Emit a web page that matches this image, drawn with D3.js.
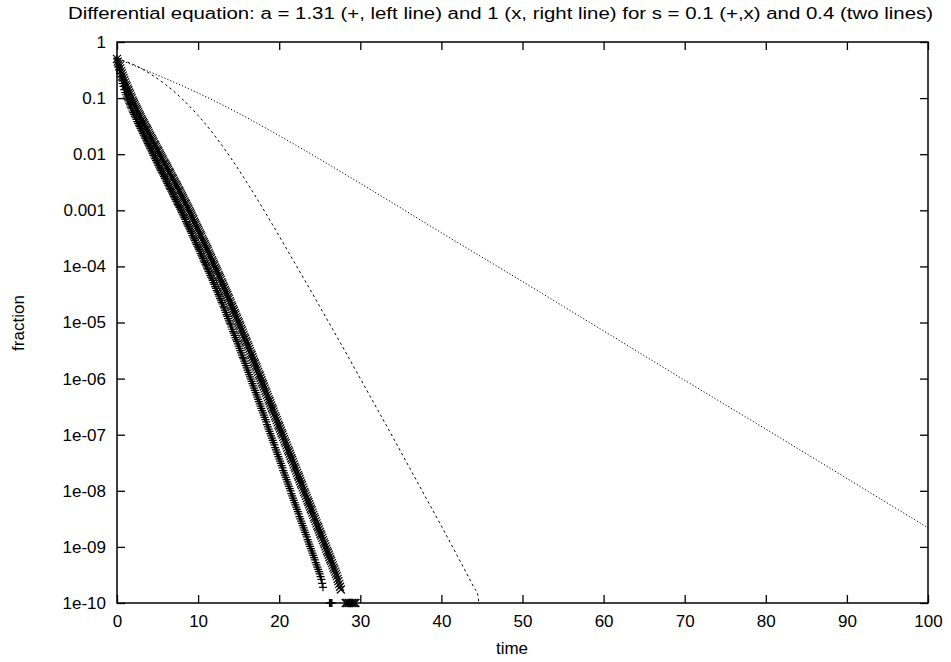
<!DOCTYPE html>
<html>
<head>
<meta charset="utf-8">
<script src="https://cdn.jsdelivr.net/npm/d3@7"></script>
<style>
  body { margin: 0; background: #fff; }
  svg { display: block; }
  text { font-family: "Liberation Sans", Arial, sans-serif; }
</style>
</head>
<body>
<svg id="chart"></svg>
<script>
var width = 951, height = 662;
var margin = {top: 42, right: 23, bottom: 59, left: 117};

var titleText = 'Differential equation: a = 1.31 (+, left line) and 1 (x, right line) for s = 0.1 (+,x) and 0.4 (two lines)';
var timeTicks = [0, 10, 20, 30, 40, 50, 60, 70, 80, 90, 100];
var fractionTicks = [1, 0.1, 0.01, 0.001, 1e-4, 1e-5, 1e-6, 1e-7, 1e-8, 1e-9, 1e-10];
var fractionLabels = ['1', '0.1', '0.01', '0.001', '1e-04', '1e-05', '1e-06', '1e-07', '1e-08', '1e-09', '1e-10'];

// log10(fraction), one point every sampleStep of time from t = 0
var sampleStep = 0.1;
// a = 1.31, s = 0.1  (+ marks), ten values per time unit
var plusExp = [
  -0.30, -0.37, -0.43, -0.50, -0.56, -0.62, -0.68, -0.74, -0.79, -0.85,
  -0.90, -0.94, -0.98, -1.02, -1.05, -1.09, -1.12, -1.16, -1.19, -1.23,
  -1.26, -1.29, -1.32, -1.35, -1.38, -1.42, -1.45, -1.48, -1.51, -1.54,
  -1.57, -1.60, -1.63, -1.66, -1.69, -1.72, -1.75, -1.78, -1.81, -1.84,
  -1.87, -1.90, -1.93, -1.96, -1.99, -2.02, -2.05, -2.08, -2.11, -2.14,
  -2.17, -2.20, -2.23, -2.26, -2.29, -2.32, -2.34, -2.37, -2.40, -2.43,
  -2.46, -2.49, -2.52, -2.55, -2.58, -2.61, -2.63, -2.66, -2.69, -2.72,
  -2.75, -2.78, -2.81, -2.84, -2.87, -2.90, -2.92, -2.95, -2.98, -3.01,
  -3.04, -3.07, -3.10, -3.13, -3.16, -3.20, -3.23, -3.26, -3.29, -3.32,
  -3.35, -3.38, -3.41, -3.45, -3.48, -3.51, -3.54, -3.58, -3.61, -3.64,
  -3.67, -3.70, -3.73, -3.77, -3.80, -3.83, -3.86, -3.90, -3.93, -3.96,
  -3.99, -4.03, -4.06, -4.09, -4.12, -4.16, -4.19, -4.22, -4.25, -4.29,
  -4.32, -4.36, -4.39, -4.43, -4.46, -4.50, -4.53, -4.57, -4.60, -4.64,
  -4.67, -4.71, -4.74, -4.78, -4.82, -4.86, -4.89, -4.93, -4.97, -5.01,
  -5.04, -5.08, -5.12, -5.16, -5.19, -5.23, -5.27, -5.31, -5.34, -5.38,
  -5.42, -5.46, -5.50, -5.54, -5.58, -5.62, -5.65, -5.69, -5.73, -5.77,
  -5.81, -5.85, -5.89, -5.93, -5.97, -6.01, -6.05, -6.09, -6.13, -6.17,
  -6.21, -6.25, -6.29, -6.33, -6.37, -6.41, -6.45, -6.49, -6.53, -6.57,
  -6.61, -6.65, -6.69, -6.73, -6.77, -6.82, -6.86, -6.90, -6.94, -6.98,
  -7.02, -7.06, -7.10, -7.14, -7.18, -7.23, -7.27, -7.31, -7.35, -7.39,
  -7.43, -7.47, -7.51, -7.55, -7.59, -7.64, -7.68, -7.72, -7.76, -7.80,
  -7.84, -7.88, -7.92, -7.96, -8.00, -8.05, -8.09, -8.13, -8.17, -8.21,
  -8.25, -8.29, -8.33, -8.37, -8.41, -8.46, -8.50, -8.54, -8.58, -8.62,
  -8.66, -8.70, -8.74, -8.78, -8.82, -8.87, -8.91, -8.95, -8.99, -9.03,
  -9.07, -9.11, -9.15, -9.19, -9.23, -9.28, -9.32, -9.36, -9.40, -9.44,
  -9.48, -9.53, -9.58, -9.65, -9.72
];
// a = 1, s = 0.1  (x marks), ten values per time unit
var crossExp = [
  -0.30, -0.35, -0.39, -0.43, -0.47, -0.52, -0.56, -0.60, -0.64, -0.68,
  -0.72, -0.76, -0.79, -0.83, -0.86, -0.90, -0.93, -0.97, -1.00, -1.04,
  -1.07, -1.10, -1.13, -1.16, -1.19, -1.22, -1.25, -1.28, -1.31, -1.34,
  -1.37, -1.40, -1.43, -1.45, -1.48, -1.51, -1.54, -1.56, -1.59, -1.62,
  -1.65, -1.68, -1.71, -1.73, -1.76, -1.79, -1.82, -1.84, -1.87, -1.90,
  -1.93, -1.95, -1.98, -2.01, -2.04, -2.06, -2.09, -2.12, -2.15, -2.17,
  -2.20, -2.22, -2.25, -2.28, -2.31, -2.33, -2.36, -2.39, -2.42, -2.44,
  -2.47, -2.50, -2.53, -2.55, -2.58, -2.61, -2.64, -2.66, -2.69, -2.72,
  -2.75, -2.78, -2.81, -2.84, -2.87, -2.89, -2.92, -2.95, -2.98, -3.01,
  -3.04, -3.07, -3.10, -3.13, -3.16, -3.20, -3.23, -3.26, -3.29, -3.32,
  -3.35, -3.38, -3.41, -3.44, -3.47, -3.51, -3.54, -3.57, -3.60, -3.63,
  -3.66, -3.69, -3.72, -3.76, -3.79, -3.82, -3.85, -3.89, -3.92, -3.95,
  -3.98, -4.02, -4.05, -4.08, -4.11, -4.15, -4.18, -4.21, -4.24, -4.28,
  -4.31, -4.35, -4.38, -4.42, -4.45, -4.48, -4.51, -4.55, -4.58, -4.62,
  -4.65, -4.69, -4.72, -4.76, -4.79, -4.83, -4.86, -4.90, -4.93, -4.97,
  -5.00, -5.04, -5.07, -5.11, -5.14, -5.18, -5.22, -5.26, -5.29, -5.33,
  -5.36, -5.40, -5.43, -5.47, -5.51, -5.55, -5.58, -5.62, -5.66, -5.70,
  -5.73, -5.77, -5.80, -5.84, -5.88, -5.92, -5.95, -5.99, -6.03, -6.07,
  -6.10, -6.14, -6.18, -6.22, -6.25, -6.29, -6.33, -6.37, -6.40, -6.44,
  -6.48, -6.52, -6.55, -6.59, -6.63, -6.67, -6.70, -6.74, -6.78, -6.82,
  -6.85, -6.89, -6.93, -6.97, -7.00, -7.04, -7.08, -7.12, -7.15, -7.19,
  -7.23, -7.27, -7.30, -7.34, -7.38, -7.42, -7.45, -7.49, -7.53, -7.57,
  -7.60, -7.64, -7.68, -7.72, -7.75, -7.79, -7.83, -7.87, -7.90, -7.94,
  -7.98, -8.02, -8.05, -8.09, -8.13, -8.17, -8.20, -8.24, -8.28, -8.32,
  -8.35, -8.39, -8.43, -8.47, -8.50, -8.54, -8.58, -8.62, -8.65, -8.69,
  -8.73, -8.77, -8.80, -8.84, -8.88, -8.92, -8.95, -8.99, -9.03, -9.07,
  -9.10, -9.14, -9.18, -9.22, -9.25, -9.29, -9.33, -9.37, -9.40, -9.44,
  -9.48, -9.52, -9.57, -9.61, -9.66, -9.71, -9.76
];
// marks sitting on the 1e-10 floor (time values)
var plusFloorTime = [26.2, 26.3, 26.4, 26.5];
var crossFloorTime = [28.2, 28.4, 28.6, 28.8, 29.0, 29.2, 29.4];

// a = 1.31, s = 0.4  (dashed)
var dashedTime = [0, 2, 4, 6, 8, 10, 12, 14, 16, 18, 20, 22, 24, 26, 28, 30, 32, 34, 36, 38, 40, 42, 44, 44.5, 44.6];
var dashedExp = [-0.30, -0.40, -0.56, -0.76, -1.01, -1.31, -1.66, -2.06, -2.50, -2.97, -3.46, -3.96, -4.46,
  -4.97, -5.48, -6.00, -6.52, -7.04, -7.57, -8.10, -8.63, -9.17, -9.72, -9.86, -10.0];
// a = 1, s = 0.4  (dotted)
var dottedTime = [0, 5, 10, 15, 20, 30, 40, 50, 60, 70, 80, 90, 100];
var dottedExp = [-0.30, -0.59, -0.91, -1.27, -1.67, -2.52, -3.40, -4.27, -5.15, -6.03, -6.90, -7.78, -8.66];

var svg = d3.select('#chart').attr('width', width).attr('height', height);

var x = d3.scaleLinear().domain([0, 100]).range([margin.left, width - margin.right]);
var y = d3.scaleLog().domain([1e-10, 1]).range([height - margin.bottom, margin.top]);

var plotLeft = x(0), plotRight = x(100), plotTop = y(1), plotBottom = y(1e-10);

function styleAxis(g) {
  g.attr('font-size', 17).attr('font-family', '"Liberation Sans", Arial, sans-serif');
  g.select('.domain').remove();
  g.selectAll('.tick line').attr('stroke', '#000').attr('stroke-width', 1.3);
  g.selectAll('.tick text').attr('fill', '#000');
}

svg.append('g')
  .attr('transform', `translate(0,${plotBottom})`)
  .call(d3.axisBottom(x).tickValues(timeTicks).tickSizeInner(-8).tickSizeOuter(0).tickPadding(12))
  .call(styleAxis);
svg.append('g')
  .attr('transform', `translate(0,${plotTop})`)
  .call(d3.axisTop(x).tickValues(timeTicks).tickSizeInner(-8).tickSizeOuter(0).tickFormat(''))
  .call(styleAxis);
svg.append('g')
  .attr('transform', `translate(${plotLeft},0)`)
  .call(d3.axisLeft(y).tickValues(fractionTicks).tickSizeInner(-8).tickSizeOuter(0).tickPadding(11)
    .tickFormat((d, i) => fractionLabels[i]))
  .call(styleAxis);
svg.append('g')
  .attr('transform', `translate(${plotRight},0)`)
  .call(d3.axisRight(y).tickValues(fractionTicks).tickSizeInner(-8).tickSizeOuter(0).tickFormat(''))
  .call(styleAxis);

// s = 0.4 lines
var line = d3.line()
  .x(d => x(d[0]))
  .y(d => y(Math.pow(10, d[1])))
  .curve(d3.curveMonotoneX);

svg.append('path')
  .datum(dottedTime.map((t, i) => [t, dottedExp[i]]))
  .attr('d', line)
  .attr('fill', 'none')
  .attr('stroke', '#000')
  .attr('stroke-width', 1)
  .attr('stroke-dasharray', '1.2,2');

svg.append('path')
  .datum(dashedTime.map((t, i) => [t, dashedExp[i]]))
  .attr('d', line)
  .attr('fill', 'none')
  .attr('stroke', '#000')
  .attr('stroke-width', 1)
  .attr('stroke-dasharray', '2.5,3');

// s = 0.1 point series
var half = 4;
function plusPath(d) {
  var px = x(d[0]), py = y(Math.pow(10, d[1]));
  return `M${px - half},${py}h${2 * half}M${px},${py - half}v${2 * half}`;
}
function crossPath(d) {
  var px = x(d[0]), py = y(Math.pow(10, d[1]));
  return `M${px - half},${py - half}l${2 * half},${2 * half}M${px - half},${py + half}l${2 * half},${-2 * half}`;
}

var plusData = plusExp.map((v, i) => [i * sampleStep, v])
  .concat(plusFloorTime.map(t => [t, -10]));
var crossData = crossExp.map((v, i) => [i * sampleStep, v])
  .concat(crossFloorTime.map(t => [t, -10]));

svg.append('g').selectAll('path')
  .data(crossData)
  .join('path')
  .attr('d', crossPath)
  .attr('fill', 'none')
  .attr('stroke', '#000')
  .attr('stroke-width', 1.2);

svg.append('g').selectAll('path')
  .data(plusData)
  .join('path')
  .attr('d', plusPath)
  .attr('fill', 'none')
  .attr('stroke', '#000')
  .attr('stroke-width', 1.2);

// frame
svg.append('rect')
  .attr('x', plotLeft).attr('y', plotTop)
  .attr('width', plotRight - plotLeft).attr('height', plotBottom - plotTop)
  .attr('fill', 'none')
  .attr('stroke', '#000')
  .attr('stroke-width', 1.5);

svg.append('text')
  .attr('x', 500.5).attr('y', 19)
  .attr('text-anchor', 'middle')
  .attr('font-size', 16)
  .attr('textLength', 865)
  .attr('lengthAdjust', 'spacingAndGlyphs')
  .text(titleText);

svg.append('text')
  .attr('x', 512).attr('y', 654)
  .attr('text-anchor', 'middle')
  .attr('font-size', 17)
  .text('time');

svg.append('text')
  .attr('transform', 'translate(24,323) rotate(-90)')
  .attr('text-anchor', 'middle')
  .attr('font-size', 17)
  .text('fraction');
</script>
</body>
</html>
